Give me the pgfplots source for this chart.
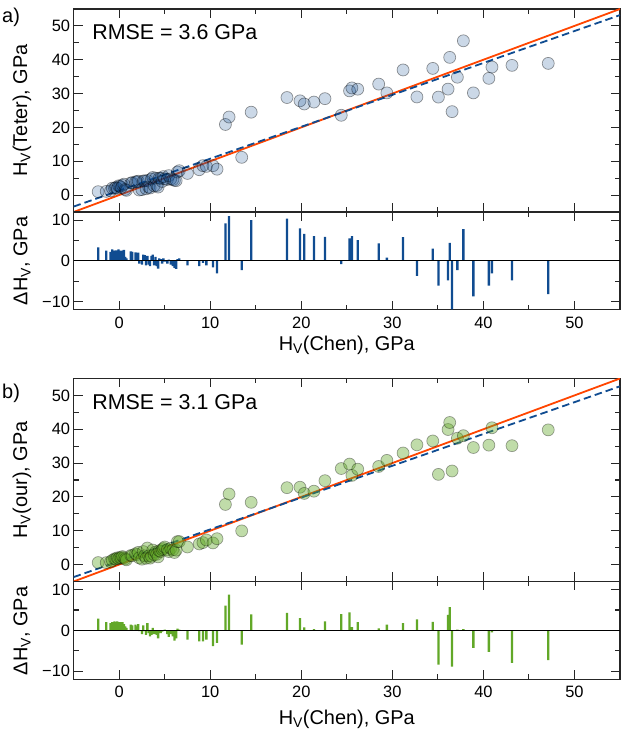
\documentclass[border=0pt]{standalone}
\usepackage{fontspec}
\setmainfont{Liberation Sans}
\usepackage{pgfplots}
\pgfplotsset{compat=1.18}
\usepackage{pgfplotstable}

\definecolor{dblue}{RGB}{16,76,145}
\definecolor{lgreen}{RGB}{98,168,40}
\definecolor{ored}{RGB}{255,69,0}

% x = H_V(Chen); ya = H_V(Teter); yb = H_V(our)
\pgfplotstableread{
x ya yb
-2.30 1.00 0.60
-1.42 1.08 0.58
-0.94 1.26 0.86
-0.75 2.05 1.25
-0.50 2.00 1.70
-0.36 2.24 1.64
-0.20 2.00 2.00
-0.06 2.74 1.74
0.08 2.58 2.08
0.23 2.23 2.03
0.37 2.87 2.37
0.52 3.22 2.02
0.67 1.67 1.67
0.80 1.40 1.40
1.29 3.59 2.69
1.43 3.63 2.63
1.80 3.90 3.20
1.94 3.94 2.94
2.10 4.10 3.60
2.20 1.50 2.00
2.50 1.60 1.60
2.65 4.15 3.85
2.80 4.20 2.60
2.96 1.86 1.86
3.10 4.30 4.90
3.25 2.35 2.55
3.40 2.10 1.90
3.55 4.75 2.45
3.70 5.20 4.30
3.84 2.74 2.94
4.00 5.00 3.70
4.13 2.83 3.03
4.28 2.38 2.28
4.40 5.00 4.10
4.57 4.97 3.87
4.72 4.02 4.42
4.86 5.46 4.76
5.00 4.80 5.20
5.30 4.60 4.40
5.45 5.75 3.85
5.67 4.77 4.77
5.90 4.60 4.40
6.07 4.37 3.57
6.26 4.26 4.26
6.40 6.80 6.80
6.60 7.20 6.80
7.50 6.40 5.20
8.80 7.50 6.10
9.20 8.70 6.50
9.58 8.48 7.28
10.30 8.70 6.40
10.75 7.65 7.65
11.67 20.87 17.77
12.07 23.07 20.87
13.46 11.16 9.96
14.50 24.50 18.40
18.43 28.83 22.73
19.86 27.86 22.86
20.33 26.93 21.03
21.39 27.49 21.69
22.60 28.50 24.80
24.39 23.59 28.39
25.30 30.80 29.70
25.56 31.66 26.36
26.20 31.30 28.20
28.50 32.80 29.00
29.40 30.20 30.80
31.18 36.98 32.98
32.70 29.00 35.40
34.44 37.44 36.54
35.06 28.96 26.66
36.12 31.32 39.92
36.30 40.70 42.00
36.56 24.66 27.66
37.14 34.84 37.34
37.80 45.60 38.10
38.90 30.20 34.60
40.60 34.50 35.30
40.94 37.84 40.44
43.14 38.34 35.14
47.12 38.92 39.82
}\scat

% residuals
\pgfplotstableread{
x da db
-2.30 3.3 2.9
-1.42 2.5 2.0
-0.94 2.2 1.8
-0.75 2.8 2.0
-0.50 2.5 2.2
-0.36 2.6 2.0
-0.20 2.2 2.2
-0.06 2.8 1.8
0.08 2.5 2.0
0.23 2.0 1.8
0.37 2.5 2.0
0.52 2.7 1.5
0.67 1.0 1.0
0.80 0.6 0.6
1.29 2.3 1.4
1.43 2.2 1.2
1.80 2.1 1.4
1.94 2.0 1.0
2.10 2.0 1.5
2.20 -0.7 -0.2
2.50 -0.9 -0.9
2.65 1.5 1.2
2.80 1.4 -0.2
2.96 -1.1 -1.1
3.10 1.2 1.8
3.25 -0.9 -0.7
3.40 -1.3 -1.5
3.55 1.2 -1.1
3.70 1.5 0.6
3.84 -1.1 -0.9
4.00 1.0 -0.3
4.13 -1.3 -1.1
4.28 -1.9 -2.0
4.40 0.6 -0.3
4.57 0.4 -0.7
4.72 -0.7 -0.3
4.86 0.6 -0.1
5.00 -0.2 0.2
5.30 -0.7 -0.9
5.45 0.3 -1.6
5.67 -0.9 -0.9
5.90 -1.3 -1.5
6.07 -1.7 -2.5
6.26 -2.0 -2.0
6.40 0.4 0.4
6.60 0.6 0.2
7.50 -1.1 -2.3
8.80 -1.3 -2.7
9.20 -0.5 -2.7
9.58 -1.1 -2.3
10.30 -1.6 -3.9
10.75 -3.1 -3.1
11.67 9.2 6.1
12.07 11.0 8.8
13.46 -2.3 -3.5
14.50 10.0 3.9
18.43 10.4 4.3
19.86 8.0 3.0
20.33 6.6 0.7
21.39 6.1 0.3
22.60 5.9 2.2
24.39 -0.8 4.0
25.30 5.5 4.4
25.56 6.1 0.8
26.20 5.1 2.0
28.50 4.3 0.5
29.40 0.8 1.4
31.18 5.8 1.8
32.70 -3.7 2.7
34.44 3.0 2.1
35.06 -6.1 -8.4
36.12 -4.8 3.8
36.30 4.4 5.7
36.56 -11.9 -8.9
37.14 -2.3 0.2
37.80 7.8 0.3
38.90 -8.7 -4.3
40.60 -6.1 -5.3
40.94 -3.1 -0.5
43.14 -4.8 -8.0
47.12 -8.2 -7.3
}\resid

\pgfplotsset{
  panel/.style={
    scale only axis, width=546.4bp,
    xmin=-5, xmax=55,
    axis line style={line width=1.2bp, black!85},
    every tick/.style={line width=1.1bp, black!85},
    major tick length=9bp, minor tick length=5bp,
    tick align=inside, tick pos=both,
    xticklabel pos=bottom, yticklabel pos=left,
    xtick={0,10,...,50}, minor xtick={-5,5,15,25,35,45,55},
    tick label style={font=\fontsize{16.5}{18}\selectfont},
    xticklabel style={yshift=-3.5bp},
    /pgf/number format/assume math mode=true,
    anchor=south west, clip=true,
  },
  scatp/.style={panel, height=203bp, ymin=-5, ymax=55,
    ytick={0,10,...,50}, minor ytick={-5,5,...,55}, xticklabels={}},
  resp/.style={panel, height=97.7bp, ymin=-12, ymax=12,
    ytick={-10,0,10}, yticklabels={−10,0,10}, minor ytick={-5,5}},
}

\newcommand{\lab}{\fontsize{20}{23}\selectfont}

\begin{document}
\begin{tikzpicture}
\path[use as bounding box] (0,0) rectangle (621bp,732bp);

% ---------- panel a: scatter
\begin{axis}[scatp, at={(73.6bp,520bp)}]
\addplot[only marks, mark=*, mark size=6bp,
  mark options={fill=dblue, fill opacity=0.22, draw=black, draw opacity=0.4, line width=0.7bp}]
  table[x=x, y=ya] {\scat};
\addplot[ored, line width=1.8bp] coordinates {(-5,-5) (55,55)};
\addplot[dblue, line width=1.8bp, dash pattern=on 7.5bp off 4bp] coordinates {(-5,-3.4) (55,53.2)};
\node[anchor=west, inner sep=0pt, font=\fontsize{21.5}{25}\selectfont] at (rel axis cs:0.034,0.887) {RMSE = 3.6 GPa};
\end{axis}

% ---------- panel a: residuals
\begin{axis}[resp, at={(73.6bp,422.3bp)}]
\addplot[ybar, bar width=2.3bp, fill=dblue, draw=none] table[x=x, y=da] {\resid};
\addplot[black, line width=1.2bp] coordinates {(-5,0) (55,0)};
\end{axis}

% ---------- panel b: scatter
\begin{axis}[scatp, at={(73.6bp,150.5bp)}]
\addplot[only marks, mark=*, mark size=6bp,
  mark options={fill=lgreen, fill opacity=0.4, draw=black, draw opacity=0.35, line width=0.7bp}]
  table[x=x, y=yb] {\scat};
\addplot[ored, line width=1.8bp] coordinates {(-5,-5) (55,55)};
\addplot[dblue, line width=1.8bp, dash pattern=on 7.5bp off 4bp] coordinates {(-5,-3.7) (55,52.7)};
\node[anchor=west, inner sep=0pt, font=\fontsize{21.5}{25}\selectfont] at (rel axis cs:0.034,0.884) {RMSE = 3.1 GPa};
\end{axis}

% ---------- panel b: residuals
\begin{axis}[resp, at={(73.6bp,52.8bp)}]
\addplot[ybar, bar width=2.3bp, fill=lgreen, draw=none] table[x=x, y=db] {\resid};
\addplot[black, line width=1.2bp] coordinates {(-5,0) (55,0)};
\end{axis}

% ---------- labels
\node[anchor=west, font=\lab, inner sep=0pt] at (2bp,715bp) {a)};
\node[anchor=west, font=\lab, inner sep=0pt] at (2bp,339bp) {b)};
\node[rotate=90, font=\lab] at (22bp,621.5bp) {H\textsubscript{V}(Teter), GPa};
\node[rotate=90, font=\lab] at (22bp,471bp) {ΔH\textsubscript{V}, GPa};
\node[rotate=90, font=\lab] at (22bp,252bp) {H\textsubscript{V}(our), GPa};
\node[rotate=90, font=\lab] at (22bp,101bp) {ΔH\textsubscript{V}, GPa};
\node[font=\lab] at (346.8bp,387bp) {H\textsubscript{V}(Chen), GPa};
\node[font=\lab] at (346.8bp,13bp) {H\textsubscript{V}(Chen), GPa};
\end{tikzpicture}
\end{document}
